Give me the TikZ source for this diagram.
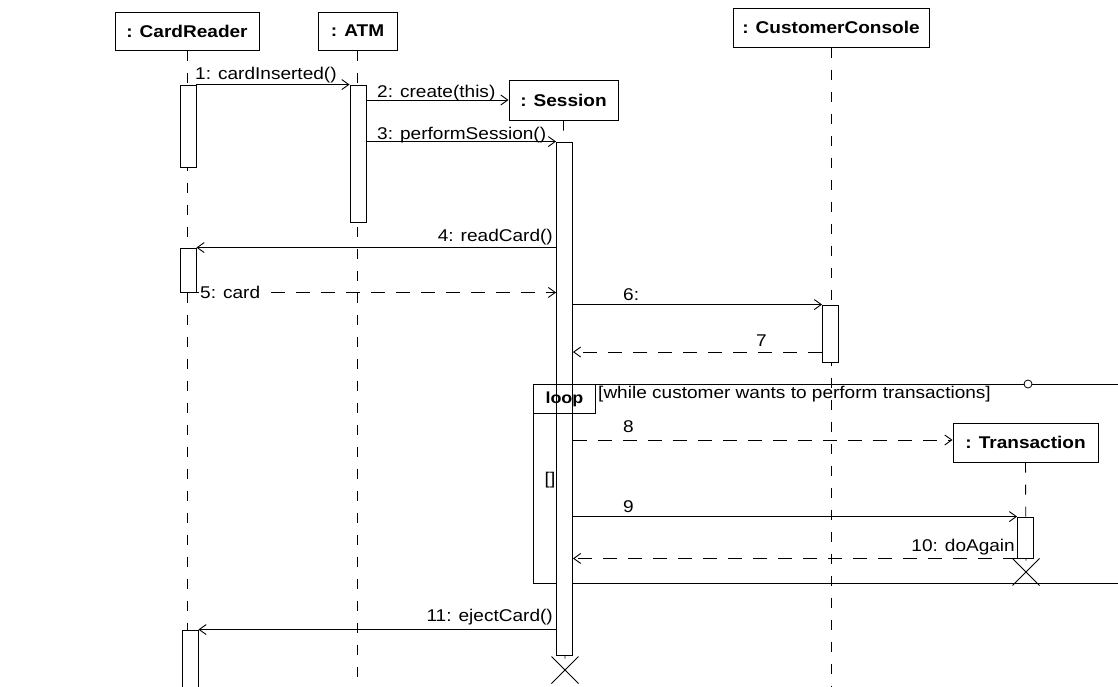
\documentclass[tikz,border=0pt]{standalone}
\usepackage{fontspec}
\setmainfont{Liberation Sans}[FakeStretch=1.12]
\usetikzlibrary{arrows.meta,shapes.misc}
\begin{document}
\begin{tikzpicture}[x=1pt,y=-1pt,
 obj/.style={draw,line width=1pt,fill=white,inner sep=0pt,font=\fontsize{17}{20}\selectfont\bfseries},
 act/.style={draw,line width=0.9pt,fill=white,minimum width=16pt,inner sep=0pt},
 life/.style={line width=0.9pt,dash pattern=on 10pt off 12pt},
 msg/.style={line width=0.9pt,-{Straight Barb[length=7pt,width=10pt]}},
 ret/.style={msg,dash pattern=on 14pt off 11pt},
 lbl/.style={font=\fontsize{17}{20}\selectfont,inner sep=1pt},
 xmark/.style={draw,cross out,line width=1pt,minimum size=26pt,inner sep=0pt},
]
\useasboundingbox[fill=white] (0,0) rectangle (1118,686);

% objects
\node[obj,minimum width=144pt,minimum height=38pt] (cr) at (187,31) {: CardReader};
\node[obj,minimum width=79pt,minimum height=38pt] (atm) at (357.5,31) {: ATM};
\node[obj,minimum width=109pt,minimum height=40pt] (ses) at (563.5,100) {: Session};
\node[obj,minimum width=196pt,minimum height=39pt] (cc) at (831,27.5) {: CustomerConsole};
\node[obj,minimum width=145pt,minimum height=39pt] (tr) at (1025.5,442.5) {: Transaction};

% destruction marks
\node[xmark] (sesX) at (565,670) {};
\node[xmark] (trX) at (1026,572) {};

% lifelines
\draw[life] (cr.south) -- (187,686);
\draw[life] (atm.south) -- (357.5,686);
\draw[life] (ses.south) -- (sesX.center);
\draw[life] (cc.south) -- (831,686);
\draw[life] (tr.south) -- (trX.center);

% loop frame
\draw[line width=0.9pt] (1125,384) -- (533,384) -- (533,583) -- (1125,583);
\node[lbl,anchor=west] (guard) at (597,394) {[while customer wants to perform transactions]};
\node[draw,circle,fill=white,line width=0.8pt,minimum size=8pt,inner sep=0pt] (knob) at (1028,384) {};
\node[lbl] (empty) at (550,480) {[]};

% activations
\node[act,minimum height=82pt] (crA) at (188,126) {};
\node[act,minimum height=44pt] (crB) at (188,270) {};
\node[act,minimum height=70pt] (crC) at (190,665) {};
\node[act,minimum height=137pt] (atmA) at (358,153.5) {};
\node[act,minimum height=513pt] (sesA) at (564.5,398.5) {};
\node[act,minimum height=57pt] (ccA) at (830.5,333.5) {};
\node[act,minimum height=41pt] (trA) at (1025.5,537.5) {};

% loop tab (over the activation, transparent)
\node[draw,line width=0.9pt,anchor=north west,minimum width=62pt,minimum height=29pt,inner sep=0pt,
      font=\fontsize{16}{19}\selectfont\bfseries] (tab) at (533,384) {loop};

% messages
\draw[msg] (crA.north east) -- (atmA.north west);
\node[lbl,anchor=south west] (l1) at (194,84) {1: cardInserted()};

\draw[msg] (atmA.east |- ses.west) -- (ses.west);
\node[lbl,anchor=south west] (l2) at (376,102) {2: create(this)};

\draw[msg] (atmA.east |- sesA.north) -- (sesA.north west);
\node[lbl,anchor=south west] (l3) at (376,144) {3: performSession()};

\draw[msg] (sesA.west |- crB.north) -- (crB.north east);
\node[lbl,anchor=south east] (l4) at (554,246) {4: readCard()};

\draw[ret] (crB.south east) -- (sesA.west |- crB.south);
\node[lbl,anchor=south west,fill=white] (l5) at (199,300) {5: card};

\draw[msg] (sesA.east |- ccA.north) -- (ccA.north west);
\node[lbl,anchor=south west] (l6) at (622,302) {6:};

\draw[ret] (ccA.west |- 0,352) -- (sesA.east |- 0,352);
\node[lbl,anchor=south west] (l7) at (755,348) {7};

\draw[ret] (sesA.east |- 0,440) -- (tr.west |- 0,440);
\node[lbl,anchor=south west] (l8) at (622,434) {8};

\draw[msg] (sesA.east |- trA.north) -- (trA.north west);
\node[lbl,anchor=south west] (l9) at (622,514) {9};

\draw[ret] (trA.south west) -- (sesA.east |- trA.south);
\node[lbl,anchor=south east] (l10) at (1016,556) {10: doAgain};

\draw[msg] (sesA.west |- crC.north) -- (crC.north east);
\node[lbl,anchor=south east] (l11) at (554,626) {11: ejectCard()};
\end{tikzpicture}
\end{document}
